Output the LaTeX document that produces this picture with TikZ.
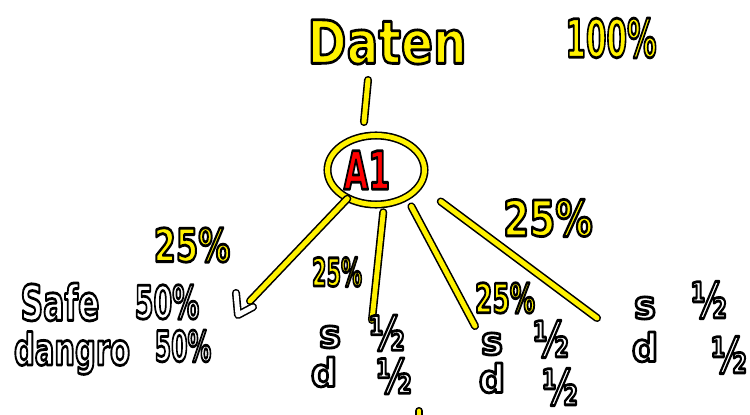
\documentclass[tikz,border=0pt]{standalone}
\usepackage{fontspec}
\setmainfont{DejaVu Sans}
\usetikzlibrary{shapes.geometric}

% handwritten look: size, x-squeeze, fill colour, text (filled and outlined in black)
\newcommand{\hand}[4]{\fontsize{#1}{#1}\selectfont\bfseries\scalebox{#2}[1]{\textcolor{#3}{\special{pdf:literal direct 2 Tr 1.6 w 1 j 0 0 0 RG}#4\special{pdf:literal direct 0 Tr}}}}

\tikzset{
	ink/.style={line width=0.9pt,draw=black,double=yellow,double distance=2.8pt,line cap=round,line join=round},
	chalk/.style={ink,double=white}
}

\begin{document}
\begin{tikzpicture}[
		x=0.02cm,y=-0.02cm,
		every node/.style={inner sep=0pt}
		]
		
		\useasboundingbox (0,0) rectangle (750,415);
		\clip (0,0) rectangle (750,415);
		\fill[white] (0,0) rectangle (750,415);
		
		\node (daten) at (387,42) {\hand{34}{0.79}{yellow}{Daten}};
		\node (total) at (611,38) {\hand{30}{0.56}{yellow}{100\%}};
		
		\node[ellipse,minimum width=1.94cm,minimum height=1.38cm,ink]
		(a1) at (376,170)
		{\hand{30}{0.6}{red}{A1}\kern0.36cm};
		
		\coordinate (stemtop) at (368,80);
		\coordinate (stembot) at (364,122);
		\draw[ink] (stemtop) -- (stembot);
		
		\coordinate (e1) at (250,301);
		\coordinate (e2) at (372,320);
		\coordinate (e3) at (475,326);
		\coordinate (e4) at (597,318);
		
		\draw[ink] (a1.225) -- (e1);
		\draw[ink,shorten <=0.15cm] (a1.283) -- (e2);
		\draw[ink,shorten <=0.2cm] (a1.318) -- (e3);
		\draw[ink,shorten <=0.52cm] (a1.340) -- (e4);
		
		% open arrow tip of the left branch
		\coordinate (t1) at (236,293);
		\coordinate (t2) at (238,315);
		\coordinate (t3) at (253,307);
		\draw[chalk] (t1) -- (t2) -- (t3);
		
		\node (p1) at (192,245) {\hand{26}{0.7}{yellow}{25\%}};
		\node (p2) at (337,272) {\hand{22}{0.54}{yellow}{25\%}};
		\node (p3) at (505,298) {\hand{23}{0.62}{yellow}{25\%}};
		\node (p4) at (548,218) {\hand{28}{0.76}{yellow}{25\%}};
		
		\node (safe) at (60,302) {\hand{28}{0.64}{white}{Safe}};
		\node (safep) at (167,302) {\hand{26}{0.59}{white}{50\%}};
		\node (danger) at (72,353) {\hand{25}{0.66}{white}{dangro}};
		\node (dangerp) at (183,346) {\hand{24}{0.56}{white}{50\%}};
		
		\node (s2) at (330,337) {\hand{22}{0.95}{white}{s}};
		\node (d2) at (324,372) {\hand{22}{0.95}{white}{d}};
		\node (h2a) at (387,333) {\hand{27}{0.72}{white}{½}};
		\node (h2b) at (394,376) {\hand{27}{0.72}{white}{½}};
		
		\node (s3) at (492,344) {\hand{22}{0.95}{white}{s}};
		\node (d3) at (492,378) {\hand{22}{0.95}{white}{d}};
		\node (h3a) at (551,339) {\hand{28}{0.7}{white}{½}};
		\node (h3b) at (560,387) {\hand{28}{0.7}{white}{½}};
		
		\node (s4) at (645,308) {\hand{22}{0.95}{white}{s}};
		\node (d4) at (645,347) {\hand{22}{0.95}{white}{d}};
		\node (h4a) at (709,300) {\hand{28}{0.7}{white}{½}};
		\node (h4b) at (729,355) {\hand{28}{0.7}{white}{½}};
		
		\coordinate (stub) at (419,411);
		\draw[ink] (stub) -- ++(0,20);
		
	\end{tikzpicture}
\end{document}
